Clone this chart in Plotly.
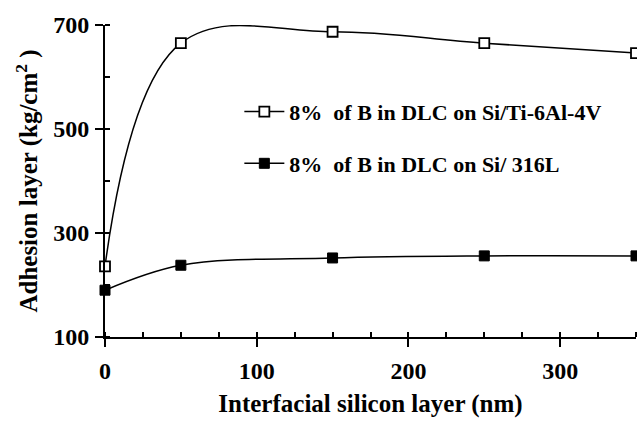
import plotly.graph_objects as go

x_vals = [0, 50, 150, 250, 350]
ti_vals = [236, 665, 687, 665, 646]
ss_vals = [190, 238, 252, 256, 256]
name_ti = "8%&nbsp; of B in DLC on Si/Ti-6Al-4V"
name_ss = "8%&nbsp; of B in DLC on Si/ 316L"
x_ticks = [0, 100, 200, 300]
y_ticks = [100, 300, 500, 700]

FONT = "'Liberation Serif', 'Times New Roman', Times, serif"

fig = go.Figure()
fig.add_trace(go.Scatter(
    x=x_vals, y=ti_vals, name=name_ti, mode="lines+markers",
    line=dict(color="black", width=1.5, shape="spline", smoothing=1.1),
    marker=dict(symbol="square", size=10, color="white", line=dict(color="black", width=1.8)),
    cliponaxis=False, legend="legend",
))
fig.add_trace(go.Scatter(
    x=x_vals, y=ss_vals, name=name_ss, mode="lines+markers",
    line=dict(color="black", width=1.5, shape="spline", smoothing=1.0),
    marker=dict(symbol="square", size=10, color="black", line=dict(color="black", width=1)),
    cliponaxis=False, legend="legend2",
))
# helper trace for inner half of major ticks
fig.add_trace(go.Scatter(x=[0], y=[100], xaxis="x2", yaxis="y2", mode="markers",
                         marker=dict(opacity=0), showlegend=False, hoverinfo="skip"))

axis_common = dict(
    showgrid=False, zeroline=False, showline=True, linecolor="black", linewidth=2,
    ticks="outside", ticklen=8, tickwidth=2, tickcolor="black", automargin=False,
    tickfont=dict(family=FONT, size=24, color="black", weight="bold"),
)
fig.update_layout(
    width=637, height=424,
    margin=dict(l=105, r=1, t=25, b=87),
    paper_bgcolor="white", plot_bgcolor="white",
    font=dict(family=FONT, color="black"),
    xaxis=dict(range=[0, 350], tickvals=x_ticks, **axis_common, ticklabelstandoff=3,
               minor=dict(ticks="inside", dtick=25, tick0=0, ticklen=5, tickwidth=1.5, tickcolor="black"),
               title=dict(text="Interfacial silicon layer (nm)",
                          font=dict(family=FONT, size=25, color="black", weight="bold"), standoff=12)),
    yaxis=dict(range=[100, 700], tickvals=y_ticks, **axis_common, ticklabelstandoff=1,
               minor=dict(ticks="inside", dtick=100, tick0=100, ticklen=5, tickwidth=1.5, tickcolor="black"),
               title=dict(text="Adhesion layer (kg/cm<sup>2</sup> )",
                          font=dict(family=FONT, size=25, color="black", weight="bold"), standoff=8)),
    xaxis2=dict(range=[0, 350], overlaying="x", anchor="y", side="bottom", tickvals=x_ticks,
                showticklabels=False, showline=False, showgrid=False, zeroline=False, automargin=False,
                ticks="inside", ticklen=5, tickwidth=2, tickcolor="black"),
    yaxis2=dict(range=[100, 700], overlaying="y", anchor="x", side="left", tickvals=y_ticks,
                showticklabels=False, showline=False, showgrid=False, zeroline=False, automargin=False,
                ticks="inside", ticklen=4, tickwidth=2, tickcolor="black"),
    legend=dict(x=0.253, y=0.722, xanchor="left", yanchor="middle", bgcolor="rgba(0,0,0,0)",
                itemwidth=40,
                font=dict(family=FONT, size=22, color="black", weight="bold")),
    legend2=dict(x=0.253, y=0.556, xanchor="left", yanchor="middle", bgcolor="rgba(0,0,0,0)",
                 itemwidth=40,
                 font=dict(family=FONT, size=22, color="black", weight="bold")),
)
fig.write_html("out.html", config={"displayModeBar": False},
               post_script="document.body.style.margin='0px';")
